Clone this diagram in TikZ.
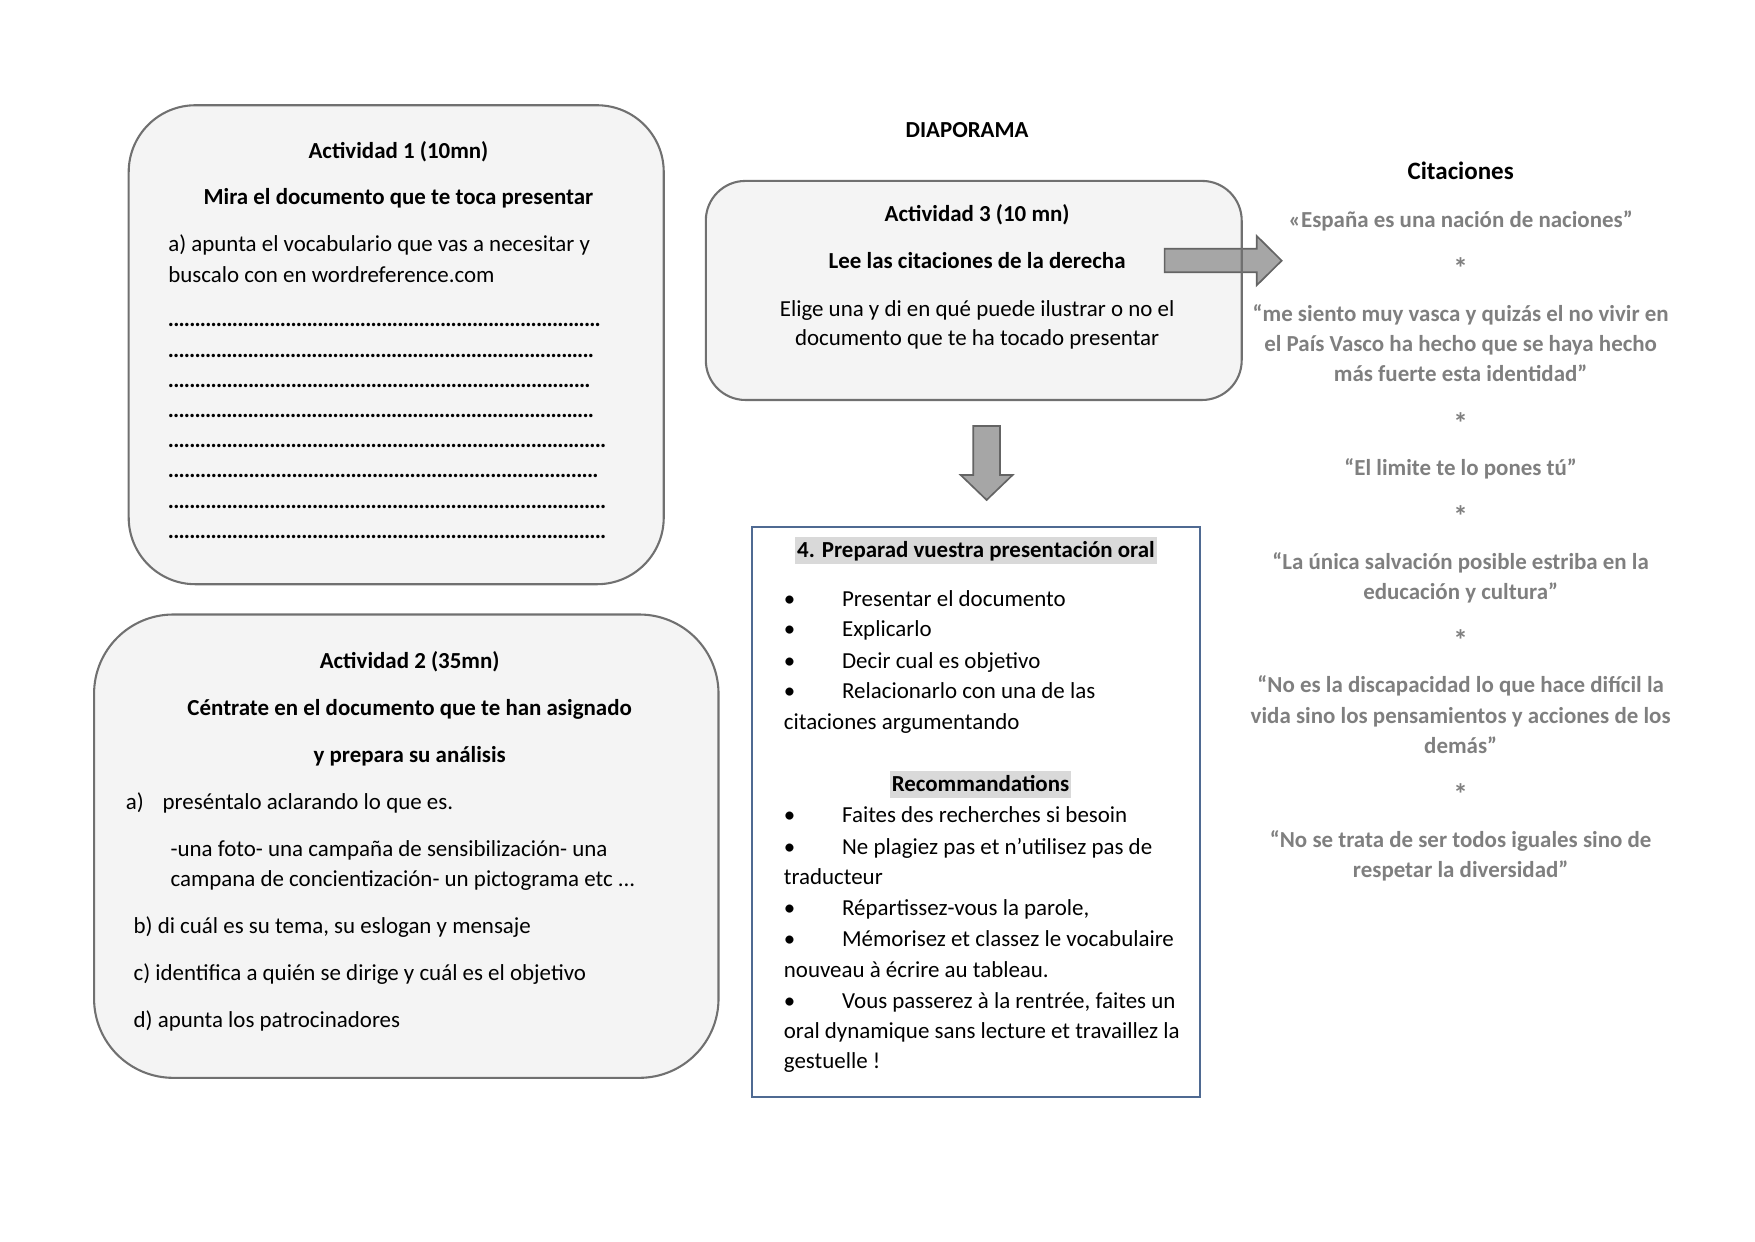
\documentclass[tikz,border=0pt]{standalone}
\usepackage{fontspec}
\setmainfont{Carlito}
\definecolor{boxfill}{HTML}{F4F4F4}
\definecolor{boxdraw}{HTML}{707070}
\definecolor{arrowfill}{HTML}{A6A6A6}
\definecolor{arrowdraw}{HTML}{646464}
\definecolor{frameblue}{HTML}{4F6A92}
\definecolor{hlgray}{HTML}{D9D9D9}
\definecolor{quotegray}{HTML}{7F7F7F}
\newcommand{\dotrow}[1]{\hbox to #1pt{\xleaders\hbox to 2.55pt{\hss\bfseries.\hss}\hfill}}
\begin{document}
\begin{tikzpicture}[x=0.537pt,y=-0.537pt,
  rbox/.style={draw=boxdraw,fill=boxfill,line width=1pt,inner sep=0pt},
  txt/.style={inner sep=0pt,font=\fontsize{11}{13.4}\selectfont},
  btxt/.style={inner sep=0pt,font=\fontsize{11}{13.4}\selectfont\bfseries},
  qtxt/.style={btxt,text=quotegray},
  startxt/.style={inner sep=0pt,text=quotegray,font=\fontsize{14}{16}\selectfont\bfseries},
  hl/.style={btxt,fill=hlgray,inner xsep=1pt,inner ysep=0pt,text height=9.7pt,text depth=3.3pt},
  blockarrow/.style={fill=arrowfill,draw=arrowdraw,line width=0.8pt}]
\useasboundingbox (0,0) rectangle (1568,1109);

% ---------- Box 1 ----------
\node[rbox,rounded corners=32pt,minimum width=256.7pt,minimum height=229.8pt] (b1) at (354,308) {};
\node[btxt,anchor=base] (b1a) at (356,142) {Actividad 1 (10mn)};
\node[btxt,anchor=base] (b1b) at (356,183) {Mira el documento que te toca presentar};
\node[txt,anchor=base west] (b1c) at (150,225) {a) apunta el vocabulario que vas a necesitar y};
\node[txt,anchor=base west] (b1d) at (150,252) {buscalo con en wordreference.com};
\foreach \y/\w [count=\i] in {292/207.4,319/204.1,346/202.5,373/204.1,400/210.0,427/206.3,454/210.0,481/210.0}
  \node[txt,anchor=base west] (dl\i) at (150,\y) {\dotrow{\w}};

% ---------- Box 2 ----------
\node[rbox,rounded corners=38pt,minimum width=299.6pt,minimum height=222.3pt] (b2) at (363,756) {};
\node[btxt,anchor=base] (b2a) at (366,597) {Actividad 2 (35mn)};
\node[btxt,anchor=base] (b2b) at (366,639) {Céntrate en el documento que te han asignado};
\node[btxt,anchor=base] (b2c) at (366,681) {y prepara su análisis};
\node[txt,anchor=base west] (b2d) at (112,723) {a)};
\node[txt,anchor=base west] (b2e) at (145,723) {preséntalo aclarando lo que es.};
\node[txt,anchor=base west] (b2f) at (152,765) {-una foto- una campaña de sensibilización- una};
\node[txt,anchor=base west] (b2g) at (152,792) {campana de concientización- un pictograma etc ...};
\node[txt,anchor=base west] (b2h) at (119,834) {b) di cuál es su tema, su eslogan y mensaje};
\node[txt,anchor=base west] (b2i) at (119,876) {c) identifica a quién se dirige y cuál es el objetivo};
\node[txt,anchor=base west] (b2j) at (119,918) {d) apunta los patrocinadores};

% ---------- Diaporama / Box 3 ----------
\node[btxt,anchor=base] (diap) at (864,123) {DIAPORAMA};
\node[fill=boxfill,rounded corners=19pt,inner sep=0pt,minimum width=256.7pt,minimum height=104.7pt] (b3) at (870,259.5) {};
\draw[blockarrow] (1040.5,222.2) -- (1122.8,222.2) -- (1122.8,210.8) -- (1145.1,232.9) -- (1122.8,254.9) -- (1122.8,243.3) -- (1040.5,243.3) -- cycle;
\draw[draw=boxdraw,line width=1pt,rounded corners=19pt] (b3.south west) rectangle (b3.north east);
\node[btxt,anchor=base] (b3a) at (873,198) {Actividad 3 (10 mn)};
\node[btxt,anchor=base] (b3b) at (873,240) {Lee las citaciones de la derecha};
\node[txt,anchor=base] (b3c) at (873,283) {Elige una y di en qué puede ilustrar o no el};
\node[txt,anchor=base] (b3d) at (873,309) {documento que te ha tocado presentar};

% ---------- Down arrow ----------
\draw[blockarrow] (869.6,380.6) -- (893.4,380.6) -- (893.4,424.4) -- (904.7,424.4) -- (881.5,446.7) -- (858.3,424.4) -- (869.6,424.4) -- cycle;

% ---------- Box 4 ----------
\node[draw=frameblue,line width=1pt,fill=white,minimum width=214.8pt,minimum height=273.3pt,inner sep=0pt] (b4) at (872,725.5) {};
\node[hl,anchor=base] (b4t) at (872,498) {4. Preparad vuestra presentación oral};
\foreach \y/\t [count=\i] in {542/{Presentar el documento},569/{Explicarlo},597/{Decir cual es objetivo},624/{Relacionarlo con una de las}}{
  \node[txt,anchor=base west] (pb\i) at (700,\y) {•};
  \node[txt,anchor=base west] (pt\i) at (752,\y) {\t};
}
\node[txt,anchor=base west] (pt5) at (700,652) {citaciones argumentando};
\node[hl,anchor=base] (b4r) at (876,707) {Recommandations};
\foreach \y/\t [count=\i] in {735/{Faites des recherches si besoin},763/{Ne plagiez pas et n’utilisez pas de},818/{Répartissez-vous la parole,},846/{Mémorisez et classez le vocabulaire},901/{Vous passerez à la rentrée, faites un}}{
  \node[txt,anchor=base west] (rb\i) at (700,\y) {•};
  \node[txt,anchor=base west] (rt\i) at (752,\y) {\t};
}
\node[txt,anchor=base west] (rc1) at (700,790) {traducteur};
\node[txt,anchor=base west] (rc2) at (700,873) {nouveau à écrire au tableau.};
\node[txt,anchor=base west] (rc3) at (700,928) {oral dynamique sans lecture et travaillez la};
\node[txt,anchor=base west] (rc4) at (700,955) {gestuelle !};

% ---------- Citaciones ----------
\node[inner sep=0pt,font=\fontsize{12}{14.6}\selectfont\bfseries,anchor=base] (cit) at (1305,160) {Citaciones};
\foreach \y/\t [count=\i] in {
  203/{«España es una nación de naciones”},
  287/{“me siento muy vasca y quizás el no vivir en},
  314/{el País Vasco ha hecho que se haya hecho},
  341/{más fuerte esta identidad”},
  425/{“El limite te lo pones tú”},
  509/{“La única salvación posible estriba en la},
  536/{educación y cultura”},
  619/{“No es la discapacidad lo que hace difícil la},
  646/{vida sino los pensamientos y acciones de los},
  673/{demás”},
  757/{“No se trata de ser todos iguales sino de},
  784/{respetar la diversidad”}}
  \node[qtxt,anchor=base] (q\i) at (1305,\y) {\t};
\foreach \y [count=\i] in {249,387,470,581,719}
  \node[startxt,anchor=base] (s\i) at (1305,\y) {*};
\end{tikzpicture}
\end{document}
